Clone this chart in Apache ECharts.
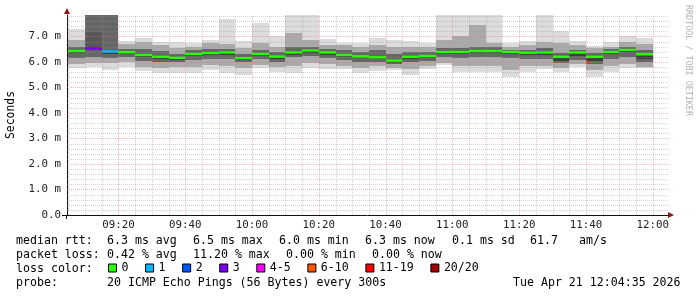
<!DOCTYPE html>
<html><head><meta charset="utf-8">
<script src="https://cdn.jsdelivr.net/npm/echarts@6/dist/echarts.min.js"></script>
<style>html,body{margin:0;padding:0;background:#fff}#c{width:697px;height:297px}</style>
</head><body><div id="c"></div>
<script>
// ---- data (5-minute steps; each value covers the 5 minutes ending at the given time) ----
const stepEnds = ['09:10','09:15','09:20','09:25','09:30','09:35','09:40','09:45','09:50','09:55',
  '10:00','10:05','10:10','10:15','10:20','10:25','10:30','10:35','10:40','10:45','10:50','10:55',
  '11:00','11:05','11:10','11:15','11:20','11:25','11:30','11:35','11:40','11:45','11:50','11:55','12:00'];
// median rtt (ms)
const medianMs = [6.43,6.53,6.41,6.38,6.27,6.20,6.16,6.31,6.35,6.37,6.15,6.31,6.21,6.37,6.45,6.37,6.27,6.22,6.18,6.05,
  6.20,6.23,6.39,6.39,6.43,6.43,6.39,6.36,6.37,6.20,6.37,6.20,6.39,6.47,6.30];
// loss class of each step
const lossClass = ['0','3','1','0','0','0','0','0','0','0','0','0','0','0','0','0','0','0','0','0',
  '0','0','0','0','0','0','0','0','0','0','0','0','0','0','0'];
// smoke: outer band (min..max pings)
const smokeMax = [7.28,7.90,7.90,6.84,6.93,6.80,6.80,6.73,6.86,7.69,6.84,7.54,7.02,7.90,7.90,6.89,6.76,6.76,6.95,6.86,
  6.82,6.73,7.90,7.90,7.90,7.90,6.73,6.84,7.90,7.22,6.84,6.64,6.80,7.02,6.95];
const smokeMin = [5.75,5.82,5.69,5.82,5.65,5.58,5.56,5.56,5.69,5.58,5.49,5.75,5.62,5.56,5.78,5.71,5.71,5.56,5.65,5.69,
  5.49,5.71,5.88,5.62,5.62,5.62,5.42,5.62,5.73,5.62,5.82,5.42,5.62,5.75,5.78];
// middle band
const midHigh = [6.86,7.90,7.90,6.70,6.78,6.65,6.55,6.60,6.73,6.70,6.55,6.73,6.60,7.14,6.86,6.67,6.65,6.60,6.67,6.60,
  6.60,6.60,6.86,7.00,7.45,6.73,6.60,6.66,6.80,6.75,6.66,6.55,6.60,6.80,6.72];
const midLow = [5.90,5.96,5.95,5.98,5.82,5.75,5.80,5.82,5.88,5.85,5.75,5.88,5.82,5.85,5.96,5.90,5.85,5.78,5.85,5.78,
  5.72,5.85,5.96,5.85,5.85,5.85,5.70,5.85,5.85,5.75,5.90,5.70,5.85,5.90,5.82];
// dark band
const darkHigh = [6.60,7.90,7.90,6.52,6.50,6.42,6.33,6.45,6.52,6.50,6.30,6.45,6.40,6.60,6.60,6.50,6.45,6.38,6.45,6.30,
  6.40,6.38,6.55,6.55,6.60,6.58,6.48,6.48,6.55,6.35,6.48,6.35,6.50,6.60,6.45];
const darkLow = [6.15,6.20,6.15,6.20,6.05,6.00,5.98,6.08,6.12,6.12,5.98,6.10,6.00,6.20,6.22,6.15,6.08,6.00,6.00,5.92,
  6.00,6.05,6.20,6.15,6.20,6.20,6.15,6.12,6.12,5.95,6.08,5.92,6.12,6.20,5.98];
// core (darkest) band
const coreHigh = [6.43,6.53,6.41,6.38,6.27,6.20,6.16,6.31,6.35,6.37,6.15,6.31,6.21,6.37,6.45,6.37,6.27,6.22,6.18,6.05,
  6.20,6.23,6.39,6.39,6.43,6.43,6.39,6.36,6.37,6.20,6.37,6.20,6.39,6.47,6.30];
const coreLow = [6.35,6.45,6.33,6.30,6.19,6.12,6.08,6.23,6.27,6.29,6.07,6.23,6.13,6.29,6.37,6.29,6.19,6.14,6.10,5.97,
  6.12,6.15,6.31,6.31,6.35,6.35,6.31,6.28,6.29,6.05,6.25,6.05,6.31,6.39,6.10];
// darker upper smoke of the lossy steps
const lossSmokeHigh = [null,7.19,null];
const lossSmokeLow  = [null,6.53,null];

const lossNames = ['0','1','2','3','4-5','6-10','11-19','20/20'];
const lossColors = ['#26ff00','#00b8ff','#0059ff','#7e00ff','#ff00ff','#ff5500','#ff0000','#a10000'];

const majorTimes = ['09:20','09:40','10:00','10:20','10:40','11:00','11:20','11:40','12:00'];
const yLabelValues = [0,1,2,3,4,5,6,7];

const statsRtt = ['median rtt:','6.3 ms avg','6.5 ms max','6.0 ms min','6.3 ms now','0.1 ms sd','61.7','am/s'];
const statsLoss = ['packet loss:','0.42 % avg','11.20 % max','0.00 % min','0.00 % now'];
const probeText = ['probe:','20 ICMP Echo Pings (56 Bytes) every 300s','Tue Apr 21 12:04:35 2026'];

// ---- helpers: x axis is minutes after 09:00 ----
const ts = s => { const [h,m] = s.split(':').map(Number); return h*60 + m - 540; };
const STEP = 5;
const xMin = 4 + 35/60;     // 09:04:35
const xMax = 184 + 35/60;   // 12:04:35
const yMax = 7.84;
const MONO = '"DejaVu Sans Mono", monospace';
const pad = n => (n<10?'0':'')+n;
const fmtTime = v => { const t = Math.round(v) + 540; return pad(Math.floor(t/60))+':'+pad(t%60); };

function band(lo, hi){
  const out = [];
  stepEnds.forEach((e,i) => { if (lo[i] != null && hi[i] != null) out.push([ts(e)-STEP, ts(e), lo[i], hi[i]]); });
  return out;
}
function rectItem(color){
  return function(params, api){
    const a = api.coord([api.value(0), api.value(3)]);
    const b = api.coord([api.value(1), api.value(2)]);
    const x0 = Math.round(a[0]), x1 = Math.round(b[0]);
    const y0 = Math.round(a[1]), y1 = Math.round(b[1]);
    return {type:'rect', shape:{x:x0, y:y0, width:x1-x0, height:y1-y0}, style:{fill:color}};
  };
}
function smokeSeries(name, lo, hi, color, z){
  return {type:'custom', name, data:band(lo,hi), renderItem:rectItem(color), clip:true, z,
    encode:{x:[0,1], y:[2,3]}, silent:true, legendHoverLink:false};
}

// grid lines
const gridData = [];
const majorSet = new Set(majorTimes);
for (let t = ts('09:05'); t <= ts('12:00'); t += STEP){
  gridData.push([t, 0, t, yMax, majorSet.has(fmtTime(t))?1:0]);
}
for (let k = 1; k <= 39; k++){
  const v = k/5;
  gridData.push([xMin, v, xMax, v, (k%5===0)?1:0]);
}

const series = [
  smokeSeries('smoke1', smokeMin, smokeMax, '#dcdcdc', 2),
  smokeSeries('smoke2', midLow, midHigh, '#aaaaaa', 2),
  smokeSeries('smoke3', darkLow, darkHigh, '#666666', 2),
  smokeSeries('smoke3b', lossSmokeLow, lossSmokeHigh, '#575757', 2),
  smokeSeries('smoke4', coreLow, coreHigh, '#3e3e3e', 2),
  {type:'custom', name:'grid', data:gridData, z:3, silent:true, clip:true,
   encode:{x:[0,2], y:[1,3]},
   renderItem:function(params, api){
     const a = api.coord([api.value(0), api.value(1)]);
     const b = api.coord([api.value(2), api.value(3)]);
     const major = api.value(4) === 1;
     let x1=a[0], y1=a[1], x2=b[0], y2=b[1];
     if (Math.abs(x1-x2) < 0.01){ x1 = x2 = Math.round(x1)+0.5; } else { y1 = y2 = Math.round(y1)+0.5; }
     return {type:'line', shape:{x1,y1,x2,y2},
       style:{stroke: major?'rgba(225,120,120,0.5)':'rgba(150,150,150,0.42)', lineWidth:1, lineDash:[1,1]}};
   }}
];
lossNames.forEach((nm, ci) => {
  const data = [];
  stepEnds.forEach((e,i) => { if (lossClass[i] === nm) data.push([ts(e)-STEP, ts(e), medianMs[i]]); });
  series.push({type:'custom', name:nm, data, z:4, clip:true, itemStyle:{color:lossColors[ci]},
    encode:{x:[0,1], y:2},
    renderItem:function(params, api){
      const a = api.coord([api.value(0), api.value(2)]);
      const b = api.coord([api.value(1), api.value(2)]);
      return {type:'line', shape:{x1:Math.round(a[0]), y1:a[1], x2:Math.round(b[0]), y2:b[1]},
        style:{stroke:lossColors[ci], lineWidth:2.4}};
    }});
});

// legend text graphics
const graphics = [];
const rttX = [16,107,193,279,365,452,530,579];
statsRtt.forEach((t,i) => graphics.push({type:'text', x:rttX[i], y:241, style:{text:t, font:'11.6px '+MONO, fill:'#000', verticalAlign:'middle'}}));
const lossX = [16,107,193,286,372];
statsLoss.forEach((t,i) => graphics.push({type:'text', x:lossX[i], y:255, style:{text:t, font:'11.6px '+MONO, fill:'#000', verticalAlign:'middle'}}));
graphics.push({type:'text', x:16, y:269, style:{text:'loss color:', font:'11.6px '+MONO, fill:'#000', verticalAlign:'middle'}});
const probeX = [16,107,513];
probeText.forEach((t,i) => graphics.push({type:'text', x:probeX[i], y:283, style:{text:t, font:'11.6px '+MONO, fill:'#000', verticalAlign:'middle'}}));
graphics.push({type:'text', x:688, y:5, rotation:-Math.PI/2, style:{text:'RRDTOOL / TOBI OETIKER', font:'8.4px '+MONO, fill:'#b4b4b4', verticalAlign:'middle', align:'left'}});
// axis arrows and axis stubs
graphics.push({type:'polygon', shape:{points:[[668,212],[674,215],[668,218]]}, style:{fill:'#8b1a1a'}});
graphics.push({type:'polygon', shape:{points:[[64,14],[67,8],[70,14]]}, style:{fill:'#8b1a1a'}});
graphics.push({type:'line', shape:{x1:62, y1:215.5, x2:67, y2:215.5}, style:{stroke:'#111', lineWidth:1}});
graphics.push({type:'line', shape:{x1:66.5, y1:215, x2:66.5, y2:219}, style:{stroke:'#111', lineWidth:1}});

const chart = echarts.init(document.getElementById('c'), null, {renderer:'canvas'});
chart.setOption({
  backgroundColor:'#ffffff',
  animation:false,
  grid:{left:67, right:29, top:15, bottom:82, containLabel:false, outerBoundsMode:'none'},
  xAxis:{type:'value', min:xMin, max:xMax,
    axisLine:{show:true, lineStyle:{color:'#111', width:1}},
    axisTick:{show:false}, splitLine:{show:false},
    axisLabel:{customValues:majorTimes.map(ts), margin:5, fontFamily:MONO, fontSize:10.8, color:'#222',
      formatter:fmtTime}},
  yAxis:{type:'value', min:0, max:yMax,
    name:'Seconds', nameLocation:'middle', nameGap:50, nameRotate:90,
    nameTextStyle:{fontFamily:MONO, fontSize:11.4, color:'#000'},
    axisLine:{show:true, lineStyle:{color:'#111', width:1}},
    axisTick:{show:false}, splitLine:{show:false},
    axisLabel:{customValues:yLabelValues, margin:6, fontFamily:MONO, fontSize:10.8, color:'#222',
      formatter:function(v){ return v===0 ? '0.0' : v.toFixed(1)+' m'; }}},
  legend:{data:lossNames, left:108, top:262, padding:0, icon:'rect', itemWidth:8, itemHeight:8, itemGap:16.6,
    selectedMode:false, textStyle:{fontFamily:MONO, fontSize:11.6, color:'#000'},
    itemStyle:{borderColor:'#000', borderWidth:1}},
  tooltip:{show:false},
  series,
  graphic:graphics
});
</script></body></html>
